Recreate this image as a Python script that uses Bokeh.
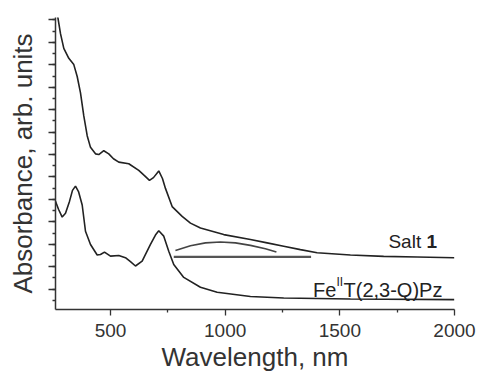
from bokeh.plotting import figure
from bokeh.models import Range1d, FixedTicker, SingleIntervalTicker, Label, CustomJSTickFormatter
from bokeh.embed import file_html
from bokeh.resources import INLINE

# ---- data ----
salt_x = [264.4, 270.0, 281.8, 296.2, 318.0, 339.8, 354.6, 369.0, 383.4, 398.2,
          412.6, 434.4, 448.8, 470.6, 492.3, 512.8, 535.9, 579.5, 623.1, 648.0,
          669.8, 687.2, 710.3, 726.4, 739.5, 768.7, 812.3, 848.5, 892.1, 993.7,
          1110.0, 1182.8, 1255.2, 1328.0, 1400.8, 1546.0, 1691.1, 1836.7, 1999.3]
salt_y = [13.42, 13.13, 12.39, 11.73, 11.29, 11.01, 10.48, 9.75, 8.72, 7.84,
          7.32, 7.03, 7.00, 7.17, 7.03, 6.81, 6.66, 6.59, 6.29, 6.06,
          5.85, 5.97, 6.27, 5.93, 5.49, 4.68, 4.24, 3.94, 3.72, 3.43,
          3.21, 3.06, 2.91, 2.76, 2.62, 2.52, 2.46, 2.43, 2.40]

fe_x = [260.0, 273.1, 289.2, 303.6, 321.0, 334.1, 347.2, 360.3, 376.4, 390.8,
        412.6, 441.8, 456.2, 473.6, 499.8, 535.9, 565.1, 586.9, 608.7, 637.9,
        674.1, 695.9, 710.3, 732.1, 753.9, 775.7, 819.3, 892.1, 964.9, 1110.0,
        1255.2, 1546.0, 1999.3]
fe_y = [4.91, 4.56, 4.21, 4.38, 4.91, 5.40, 5.59, 5.35, 4.75, 3.58,
        2.99, 2.52, 2.54, 2.65, 2.47, 2.50, 2.40, 2.22, 2.03, 2.25,
        2.99, 3.41, 3.60, 3.36, 2.69, 2.10, 1.52, 1.08, 0.86, 0.67,
        0.60, 0.56, 0.53]

arc_x = [783.1, 848.5, 913.9, 979.3, 1044.7, 1110.0, 1175.4, 1223.4]
arc_y = [2.72, 2.93, 3.06, 3.10, 3.06, 2.95, 2.80, 2.65]

base_x = [775.7, 1374.6]
base_y = [2.44, 2.44]

x_ticks = [500, 1000, 1500, 2000]
x_minor = [750, 1250, 1750]

x_title = "Wavelength, nm"
y_title = "Absorbance, arb. units"

FONT = "Liberation Sans"
INK = "#222222"
AX = "#333333"

p = figure(width=478, height=374, output_backend="svg", toolbar_location=None,
           x_range=Range1d(260, 2000), y_range=Range1d(0.09, 13.11),
           min_border_left=55, min_border_right=24, min_border_top=17, min_border_bottom=62)
p.outline_line_color = None
p.xgrid.visible = False
p.ygrid.visible = False
p.background_fill_color = "white"
p.border_fill_color = "white"

p.line(salt_x, salt_y, line_color=INK, line_width=1.6)
p.line(fe_x, fe_y, line_color=INK, line_width=1.6)
p.line(arc_x, arc_y, line_color="#444444", line_width=1.6)
p.line(base_x, base_y, line_color="#555555", line_width=2.2)

# x axis
xa = p.xaxis[0]
xa.ticker = FixedTicker(ticks=x_ticks, minor_ticks=x_minor)
xa.axis_label = x_title
xa.axis_label_text_font = FONT
xa.axis_label_text_font_size = "26px"
xa.axis_label_text_font_style = "normal"
xa.axis_label_text_color = AX
xa.axis_label_text_line_height = 0.9
xa.axis_label_standoff = 2
xa.major_label_text_font = FONT
xa.major_label_text_font_size = "19px"
xa.major_label_text_color = AX
xa.major_label_text_line_height = 0.9
xa.major_label_standoff = 8
xa.axis_line_color = AX
xa.axis_line_width = 1.5
xa.major_tick_line_color = AX
xa.minor_tick_line_color = AX
xa.major_tick_line_width = 1.3
xa.minor_tick_line_width = 1.3
xa.major_tick_in = 0
xa.major_tick_out = 6
xa.minor_tick_in = 0
xa.minor_tick_out = 3

# y axis
ya = p.yaxis[0]
ya.ticker = SingleIntervalTicker(interval=1, num_minor_ticks=2)
ya.formatter = CustomJSTickFormatter(code="return ''")
ya.axis_label = y_title
ya.axis_label_text_font = FONT
ya.axis_label_text_font_size = "26px"
ya.axis_label_text_font_style = "normal"
ya.axis_label_text_color = AX
ya.axis_label_standoff = 11
ya.major_label_standoff = 0
ya.axis_line_color = AX
ya.axis_line_width = 1.5
ya.major_tick_line_color = AX
ya.minor_tick_line_color = AX
ya.major_tick_line_width = 1.3
ya.minor_tick_line_width = 1.3
ya.major_tick_in = 0
ya.major_tick_out = 7
ya.minor_tick_in = 0
ya.minor_tick_out = 3

# curve labels
p.add_layout(Label(x=1924, y=3.135, text="1", text_font=FONT, text_font_size="19px",
                   text_font_style="bold", text_color=INK, text_align="right",
                   text_baseline="alphabetic"))
p.add_layout(Label(x=1924, y=3.135, x_offset=-15.9, text="Salt", text_font=FONT,
                   text_font_size="19px", text_color=INK, text_align="right",
                   text_baseline="alphabetic"))

p.add_layout(Label(x=1383, y=0.957, text="Fe", text_font=FONT, text_font_size="20px",
                   text_color=INK, text_align="left", text_baseline="alphabetic"))
p.add_layout(Label(x=1383, y=0.957, x_offset=23.5, y_offset=7.7, text="II", text_font=FONT,
                   text_font_size="12px", text_color=INK, text_align="left",
                   text_baseline="alphabetic"))
p.add_layout(Label(x=1383, y=0.957, x_offset=30.5, text="T(2,3-Q)Pz", text_font=FONT,
                   text_font_size="20px", text_color=INK, text_align="left",
                   text_baseline="alphabetic"))

open("out.html", "w").write(file_html(p, INLINE))
